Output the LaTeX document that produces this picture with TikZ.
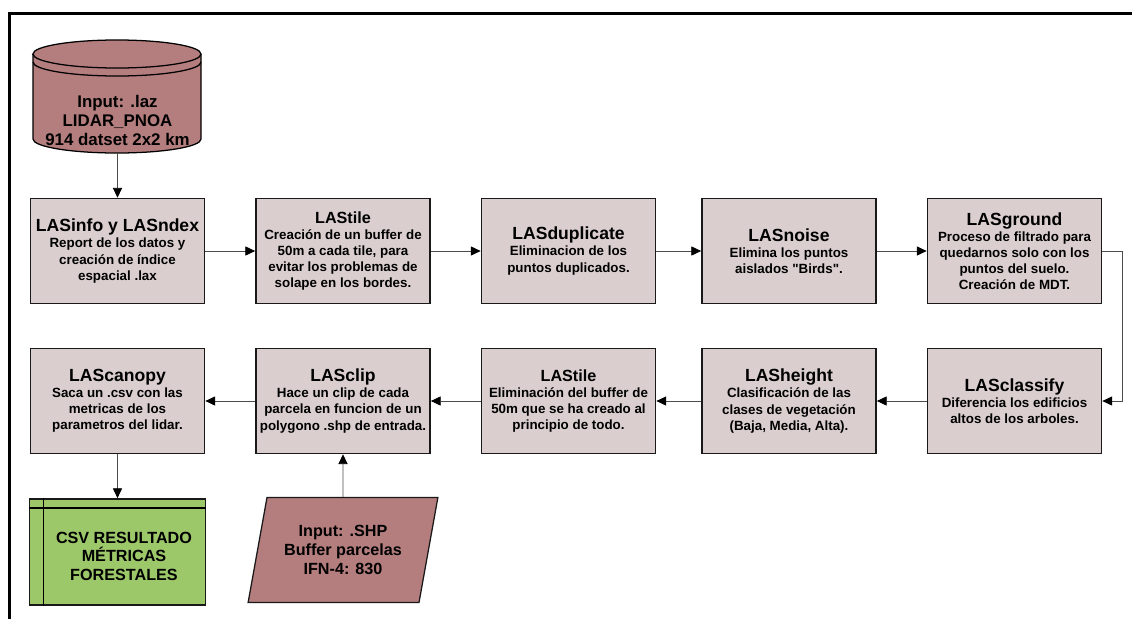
\documentclass[tikz,border=0pt]{standalone}
\usepackage{fontspec}
\setmainfont{Liberation Sans}
\usetikzlibrary{arrows.meta,shapes.geometric}
\definecolor{procfill}{RGB}{218,206,206}
\definecolor{rosefill}{RGB}{181,126,126}
\definecolor{csvfill}{RGB}{156,200,106}
\newcommand{\ttl}[1]{{\fontsize{12.5}{14}\selectfont #1}\\}
\newcommand{\ttlsm}[1]{{\fontsize{11.5}{13}\selectfont #1}\\}
\tikzset{
  proc/.style={draw=black!90, line width=1.2pt, fill=procfill, minimum width=4.35cm,
    minimum height=2.62cm, align=center, inner sep=2pt,
    font=\bfseries\fontsize{9.5}{11.4}\selectfont},
  bigtxt/.style={align=center, font=\bfseries\fontsize{12}{13.5}\selectfont},
  arr/.style={draw=black!70, line width=0.6pt, -{Triangle[length=7pt,width=6.5pt,color=black]}}
}
\begin{document}
\begin{tikzpicture}[x=0.025cm,y=-0.025cm]
\useasboundingbox (0,0) rectangle (1132,619);
\draw[line width=2.4pt] (9.5,619) -- (9.5,13.5) -- (1132,13.5);
% input cylinder
\draw[line width=0.9pt, fill=rosefill] (33,54) -- (33,139)
  arc[start angle=180, end angle=360, x radius=2.1cm, y radius=0.35cm] -- (201,54)
  arc[start angle=0, end angle=180, x radius=2.1cm, y radius=0.35cm] -- cycle;
\draw[line width=0.9pt] (33,54) arc[start angle=180, end angle=360, x radius=2.1cm, y radius=0.35cm];
\draw[line width=0.9pt] (33,62) arc[start angle=180, end angle=360, x radius=2.1cm, y radius=0.35cm];
\node[bigtxt] (db) at (117.5,120) {Input: .laz\\LIDAR\_PNOA\\914 datset 2x2 km};
\coordinate (dbb) at (117.5,153);
% first row
\node[proc] (info) at (117.5,251) {\ttl{LASinfo y LASndex}Report de los datos y\\creación de índice\\espacial .lax};
\node[proc] (tile) at (343,251) {\ttlsm{LAStile}Creación de un buffer de\\50m a cada tile, para\\evitar los problemas de\\solape en los bordes.};
\node[proc] (dup) at (568.5,251) {\ttl{LASduplicate}Eliminacion de los\\puntos duplicados.};
\node[proc] (noise) at (789,251) {\ttl{LASnoise}Elimina los puntos\\aislados \textquotedbl Birds\textquotedbl.};
\node[proc] (ground) at (1014.5,251) {\ttl{LASground}Proceso de filtrado para\\quedarnos solo con los\\puntos del suelo.\\Creación de MDT.};
% second row
\node[proc] (classify) at (1014.5,401) {\ttl{LASclassify}Diferencia los edificios\\altos de los arboles.};
\node[proc] (height) at (789,401) {\ttl{LASheight}Clasificación de las\\clases de vegetación\\(Baja, Media, Alta).};
\node[proc] (untile) at (568.5,401) {\ttlsm{LAStile}Eliminación del buffer de\\50m que se ha creado al\\principio de todo.};
\node[proc] (clip) at (343,401) {\ttl{LASclip}Hace un clip de cada\\parcela en funcion de un\\polygono .shp de entrada.};
\node[proc] (canopy) at (117.5,401) {\ttl{LAScanopy}Saca un .csv con las\\metricas de los\\parametros del lidar.};
% outputs / inputs
\node[draw=black!90, line width=1.2pt, fill=csvfill, minimum width=4.4cm, minimum height=2.65cm] (csv) at (117.5,552) {};
\draw[line width=1.2pt] ([xshift=0.375cm]csv.north west) -- ([xshift=0.375cm]csv.south west);
\draw[line width=1.2pt] ([yshift=-0.25cm]csv.north west) -- ([yshift=-0.25cm]csv.north east);
\node[bigtxt, font=\bfseries\fontsize{11.5}{13.2}\selectfont] (csvtxt) at (124,556) {CSV RESULTADO\\MÉTRICAS\\FORESTALES};
\node[trapezium, trapezium left angle=75, trapezium right angle=105, trapezium stretches=true,
  draw=black!90, line width=0.9pt, fill=rosefill, minimum width=4.75cm, minimum height=2.62cm,
  bigtxt, font=\bfseries\fontsize{11.5}{13.5}\selectfont] (shp) at (343,550) {Input: .SHP\\Buffer parcelas\\IFN-4: 830};
% connectors
\draw[arr] (dbb) -- (info);
\draw[arr] (info) edge (tile);
\draw[arr] (tile) edge (dup);
\draw[arr] (dup) edge (noise);
\draw[arr] (noise) edge (ground);
\draw[arr] (ground.east) -- ++(20,0) |- (classify.east);
\draw[arr] (classify) edge (height);
\draw[arr] (height) edge (untile);
\draw[arr] (untile) edge (clip);
\draw[arr] (clip) edge (canopy);
\draw[arr] (canopy) edge (csv);
\draw[arr] (shp) edge (clip);
\end{tikzpicture}
\end{document}
